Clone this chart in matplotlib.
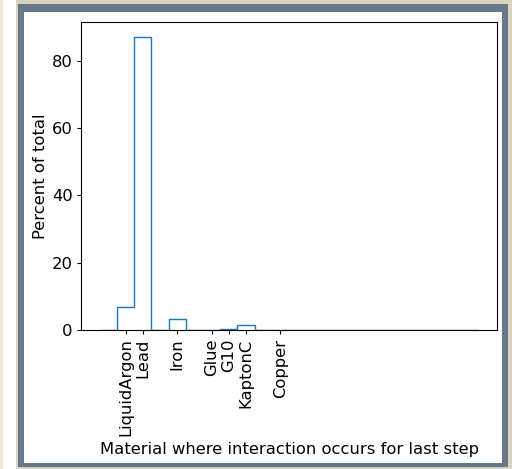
#!/usr/bin/env python3
import matplotlib

matplotlib.use("Agg")
import matplotlib.pyplot as plt
import numpy as np
from matplotlib.patches import Rectangle

# material categories (bin index on the x axis) and share of total, in percent
materials = ["LiquidArgon", "Lead", "Iron", "Glue", "G10", "KaptonC", "Copper"]
material_index = [0, 1, 3, 5, 6, 7, 9]
percent_of_total = [6.8, 87.1, 3.3, 0.2, 0.3, 1.5, 0.1]

bin_edges = np.arange(-1.5, 21.5, 1.0)

fig = plt.figure(figsize=(5.12, 4.69), dpi=100)

# page frame around the figure
fig.patches.append(Rectangle((0, 0), 0.006, 1, transform=fig.transFigure,
                             facecolor="#ece6d6", edgecolor="none", zorder=-3))
fig.patches.append(Rectangle((0.031, 0), 0.969, 1, transform=fig.transFigure,
                             facecolor="#d9d3c0", edgecolor="none", zorder=-3))
fig.patches.append(Rectangle((0.035, 0.004), 0.957, 0.987, transform=fig.transFigure,
                             facecolor="#66788a", edgecolor="none", zorder=-2))
fig.patches.append(Rectangle((0.047, 0.013), 0.934, 0.961, transform=fig.transFigure,
                             facecolor="white", edgecolor="none", zorder=-1))

ax = fig.add_axes([0.158, 0.296, 0.813, 0.657])
ax.hist(material_index, bins=bin_edges, weights=percent_of_total,
        histtype="step", color="#1f77b4", linewidth=1.0)

ax.set_xticks(material_index)
ax.set_xticklabels(materials, rotation=90)
ax.set_ylabel("Percent of total", fontsize=11.75, labelpad=2.5)
ax.set_xlabel("Material where interaction occurs for last step", fontsize=11.75)
ax.tick_params(labelsize=11.75, length=3, pad=3)

fig.savefig("out.png", dpi=100)
